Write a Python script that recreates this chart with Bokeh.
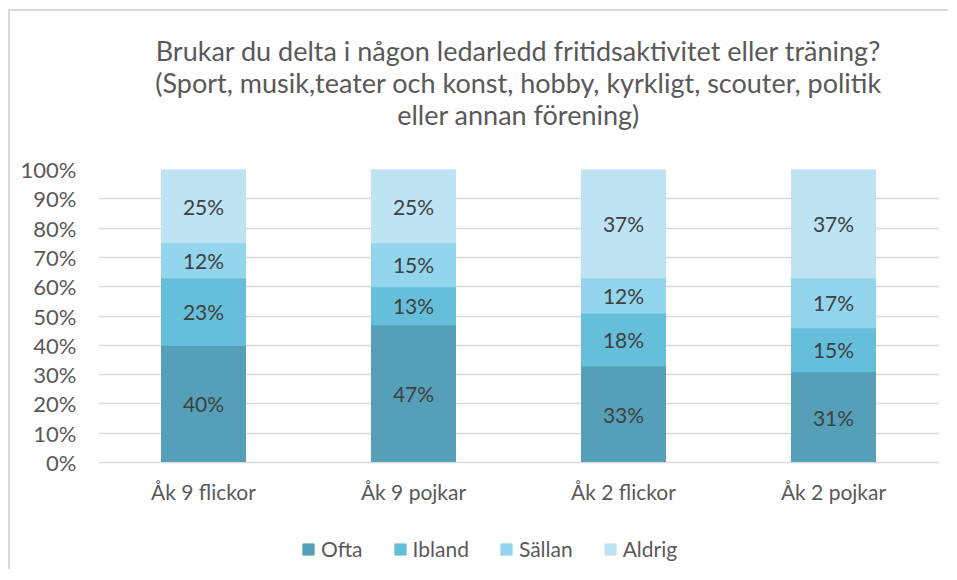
from bokeh.plotting import figure
from bokeh.models import (ColumnDataSource, Legend, LegendItem, Title,
                          NumeralTickFormatter, FixedTicker, LabelSet, Range1d)
from bokeh.core.properties import value
from bokeh.embed import file_html
from bokeh.resources import INLINE

categories = ["Åk 9 flickor", "Åk 9 pojkar", "Åk 2 flickor", "Åk 2 pojkar"]
series = ["Ofta", "Ibland", "Sällan", "Aldrig"]
ofta = [0.40, 0.47, 0.33, 0.31]
ibland = [0.23, 0.13, 0.18, 0.15]
sallan = [0.12, 0.15, 0.12, 0.17]
aldrig = [0.25, 0.25, 0.37, 0.37]
y_ticks = [0.0, 0.1, 0.2, 0.3, 0.4, 0.5, 0.6, 0.7, 0.8, 0.9, 1.0]
title_lines = [
    "Brukar du delta i någon ledarledd fritidsaktivitet eller träning?",
    "(Sport, musik,teater och konst, hobby, kyrkligt, scouter, politik",
    "eller annan förening)",
]
colors = ["#55a0b8", "#66bfda", "#92d5ec", "#bee3f2"]

FONT = "Lato"
TXT = "#595959"

data = {"cat": categories, "Ofta": ofta, "Ibland": ibland, "Sällan": sallan, "Aldrig": aldrig}
src = ColumnDataSource(data)

# the frame extends below 0 so that the category axis (fixed at 0) and the
# legend both sit inside it
p = figure(x_range=categories, y_range=Range1d(-0.365, 1),
           frame_width=840, frame_height=400,
           output_backend="svg", toolbar_location=None,
           min_border_left=88, min_border_right=10,
           min_border_top=158, min_border_bottom=0)
p.outline_line_color = None
p.styles = {"border-top": "2px solid #d9d9d9", "border-left": "2px solid #d9d9d9",
            "margin-left": "8px", "margin-top": "9px"}

renderers = p.vbar_stack(series, x="cat", width=0.4, color=colors, source=src)

# data labels
xs, ys, texts = [], [], []
cols = [ofta, ibland, sallan, aldrig]
for i, c in enumerate(categories):
    base = 0.0
    for vals in cols:
        v = vals[i]
        xs.append(c)
        ys.append(base + v / 2)
        texts.append(f"{round(v * 100)}%")
        base += v
lab_src = ColumnDataSource(dict(x=xs, y=ys, t=texts))
labels = LabelSet(x="x", y="y", text="t", source=lab_src, text_align="center",
                  text_baseline="middle", text_font_size="21px", text_color="#404040",
                  text_font=value(FONT))
p.add_layout(labels)

# axes
p.yaxis.ticker = FixedTicker(ticks=y_ticks)
p.yaxis.formatter = NumeralTickFormatter(format="0%")
p.yaxis.axis_line_color = None
p.yaxis.major_tick_line_color = None
p.yaxis.minor_tick_line_color = None
p.yaxis.major_label_standoff = 16
p.yaxis.major_label_text_font_size = "22px"
p.yaxis.major_label_text_color = TXT
p.yaxis.major_label_text_font = FONT

p.xaxis.fixed_location = 0
p.xaxis.axis_line_color = "#d9d9d9"
p.xaxis.major_tick_line_color = None
p.xaxis.minor_tick_line_color = None
p.xaxis.major_label_standoff = 10
p.xaxis.major_label_text_font_size = "21px"
p.xaxis.major_label_text_color = TXT
p.xaxis.major_label_text_font = FONT

p.xgrid.grid_line_color = None
p.ygrid.ticker = FixedTicker(ticks=y_ticks)
p.ygrid.grid_line_color = "#d9d9d9"
p.ygrid.grid_line_width = 1.5

# legend inside the lower part of the frame
items = [LegendItem(label=s, renderers=[r]) for s, r in zip(series, renderers)]
legend = Legend(items=items, orientation="horizontal", location=(203, 8),
                glyph_width=14, glyph_height=14, label_standoff=6, spacing=30,
                label_text_font=FONT, label_text_font_size="21px",
                label_text_color=TXT, border_line_color=None,
                background_fill_alpha=0, margin=0, padding=0)
p.add_layout(legend, "center")

# title lines, innermost first (a blank spacer sits next to the frame)
p.add_layout(Title(text=" ", align="center", text_font=FONT, text_font_size="27px",
                   standoff=5), "above")
for line in reversed(title_lines):
    t = Title(text=line, align="center", text_font=FONT, text_font_size="27px",
              text_font_style="normal", text_color=TXT, standoff=-3)
    p.add_layout(t, "above")

open("out.html", "w").write(file_html(p, INLINE))
